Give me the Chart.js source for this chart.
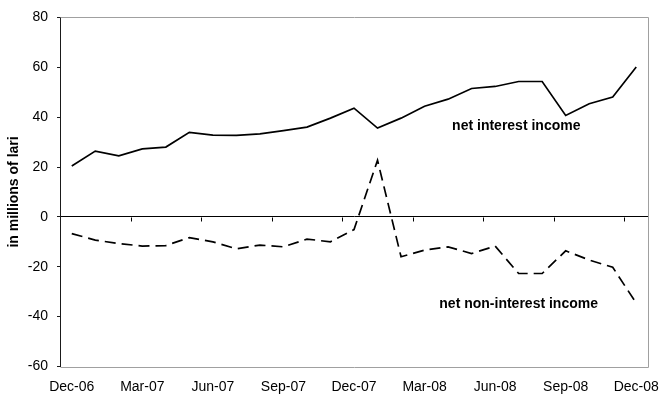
<!DOCTYPE html>
<html lang="en">
<head>
    <meta charset="UTF-8">
    <title>Net interest and non-interest income</title>
    <script src="https://cdn.jsdelivr.net/npm/chart.js"></script>
    <style>
        html, body {
            margin: 0;
            padding: 0;
            background: #ffffff;
        }
        #wrap {
            width: 660px;
            height: 398px;
        }
    </style>
</head>
<body>

<div id="wrap">
    <canvas id="incomeChart" width="660" height="398"></canvas>
</div>

<script>
    // Monthly figures, in millions of lari
    const months = [
        'Dec-06', 'Jan-07', 'Feb-07', 'Mar-07', 'Apr-07', 'May-07', 'Jun-07', 'Jul-07', 'Aug-07',
        'Sep-07', 'Oct-07', 'Nov-07', 'Dec-07', 'Jan-08', 'Feb-08', 'Mar-08', 'Apr-08', 'May-08',
        'Jun-08', 'Jul-08', 'Aug-08', 'Sep-08', 'Oct-08', 'Nov-08', 'Dec-08'
    ];
    const netInterest = [
        20.4, 26.4, 24.5, 27.3, 28.0, 33.9, 32.8, 32.7, 33.3,
        34.6, 36.0, 39.6, 43.6, 35.6, 39.6, 44.4, 47.2, 51.5,
        52.3, 54.3, 54.3, 40.7, 45.4, 48.1, 60.1
    ];
    const netNonInterest = [
        -6.7, -9.3, -10.7, -11.7, -11.5, -8.3, -10.0, -12.8, -11.3,
        -12.0, -8.9, -10.0, -5.1, 22.7, -16.0, -13.3, -12.0, -14.7,
        -11.7, -22.7, -22.7, -13.6, -17.3, -20.2, -34.6
    ];
    const yTicks = [-60, -40, -20, 0, 20, 40, 60, 80];

    const FONT = 'Arial, "Liberation Sans", sans-serif';

    // grey frame (top/right/bottom), zero-line tick marks, series labels
    const decorations = {
        id: 'decorations',
        afterDatasetsDraw(chart) {
            const ctx = chart.ctx;
            const area = chart.chartArea;
            const x = chart.scales.x;
            const y = chart.scales.y;
            const l = Math.round(area.left) + 0.5;
            const r = Math.round(area.right) + 0.5;
            const t = Math.round(area.top) + 0.5;
            const b = Math.round(area.bottom) + 0.5;
            ctx.save();

            ctx.strokeStyle = '#a0a0a0';
            ctx.lineWidth = 1;
            ctx.beginPath();
            ctx.moveTo(l, t);
            ctx.lineTo(r, t);
            ctx.lineTo(r, b);
            ctx.lineTo(l, b);
            ctx.stroke();

            // tick marks hanging off the zero line, every third month
            const zeroY = Math.round(y.getPixelForValue(0)) + 0.5;
            const half = (x.getPixelForValue(1) - x.getPixelForValue(0)) / 2;
            ctx.strokeStyle = '#000000';
            ctx.beginPath();
            for (let i = 3; i < months.length; i += 3) {
                const px = Math.round(x.getPixelForValue(i) - half) + 0.5;
                ctx.moveTo(px, zeroY);
                ctx.lineTo(px, zeroY + 4);
            }
            ctx.stroke();

            ctx.fillStyle = '#000000';
            ctx.font = 'bold 14px ' + FONT;
            ctx.textAlign = 'center';
            ctx.textBaseline = 'middle';
            ctx.fillText('net interest income', x.getPixelForValue(18.9), y.getPixelForValue(36.2));
            ctx.fillText('net non-interest income', x.getPixelForValue(19.0), y.getPixelForValue(-35));
            ctx.restore();
        }
    };

    const ctx = document.getElementById('incomeChart').getContext('2d');
    const incomeChart = new Chart(ctx, {
        type: 'line',
        data: {
            labels: months,
            datasets: [{
                label: 'net interest income',
                data: netInterest,
                borderColor: '#000000',
                borderWidth: 1.7,
                pointRadius: 0,
                tension: 0,
                fill: false
            }, {
                label: 'net non-interest income',
                data: netNonInterest,
                borderColor: '#000000',
                borderWidth: 1.7,
                borderDash: [11, 6],
                pointRadius: 0,
                tension: 0,
                fill: false
            }]
        },
        options: {
            responsive: false,
            animation: false,
            layout: {
                padding: { top: 17, right: 12, bottom: 0, left: 0 }
            },
            plugins: {
                legend: { display: false },
                tooltip: { enabled: false }
            },
            scales: {
                x: {
                    offset: true,
                    border: { display: false },
                    grid: { display: false, drawTicks: false },
                    ticks: {
                        autoSkip: false,
                        maxRotation: 0,
                        padding: 12,
                        color: '#000000',
                        font: { family: FONT, size: 14 },
                        callback: (val, i) => (i % 3 === 0 ? months[i] : '')
                    },
                    afterFit(scale) {
                        scale.height = 31.5;
                        // let the end labels hang past the plot edges
                        scale.paddingLeft = 0;
                        scale.paddingRight = 0;
                    }
                },
                y: {
                    min: -60,
                    max: 80,
                    afterBuildTicks(scale) {
                        scale.ticks = yTicks.map(v => ({ value: v }));
                    },
                    border: { display: true, color: '#1a1a1a', width: 1 },
                    grid: {
                        color: c => (c.tick && c.tick.value === 0 ? '#000000' : 'rgba(0,0,0,0)'),
                        tickColor: '#1a1a1a',
                        tickLength: 3,
                        lineWidth: 1
                    },
                    ticks: {
                        padding: 9,
                        color: '#000000',
                        font: { family: FONT, size: 14 }
                    },
                    title: {
                        display: true,
                        text: 'in millions of lari',
                        color: '#000000',
                        font: { family: FONT, size: 14, weight: 'bold' },
                        padding: { top: 6, bottom: 0 }
                    },
                    afterFit(scale) { scale.width = 60; }
                }
            }
        },
        plugins: [decorations]
    });
</script>

</body>
</html>
